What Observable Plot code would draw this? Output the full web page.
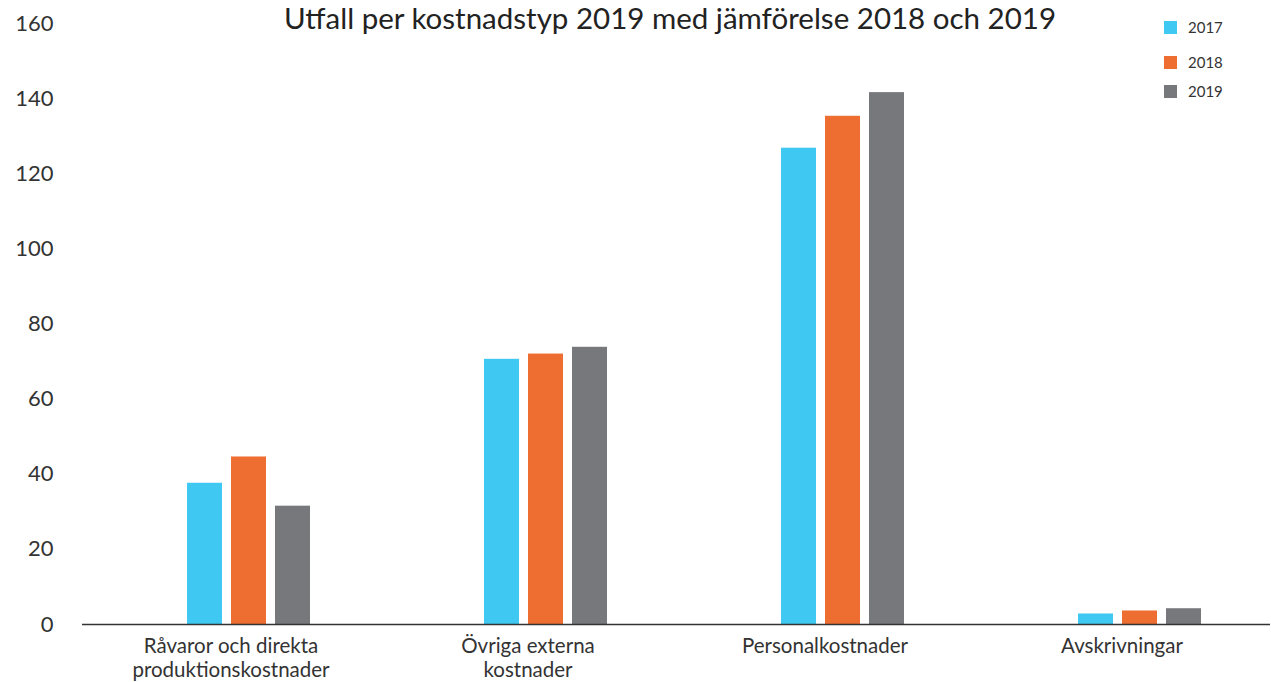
<!DOCTYPE html>
<html><head><meta charset="utf-8">
<script src="https://cdn.jsdelivr.net/npm/d3@7"></script>
<script src="https://cdn.jsdelivr.net/npm/@observablehq/plot@0.6"></script>
<style>
body{margin:0;background:#fff;font-family:Lato,sans-serif;}
#wrap{position:relative;width:1271px;height:682px;overflow:hidden;background:#fff;}
#title{position:absolute;left:0;top:0;width:1271px;box-sizing:border-box;padding-left:69px;text-align:center;font-size:29.5px;line-height:normal;color:#222;white-space:nowrap;}
#legend{position:absolute;left:1164px;top:0;}
.item{position:absolute;left:0;display:flex;align-items:center;font-size:15px;line-height:15px;color:#333;white-space:nowrap}
.sw{width:13px;height:13px;margin-right:11px}
#chart{position:absolute;left:0;top:0;}
</style></head><body>
<div id="wrap"><div id="chart"></div><div id="title"></div><div id="legend"></div></div>
<script>
const titleText = "Utfall per kostnadstyp 2019 med jämförelse 2018 och 2019";
const categories = ["Råvaror och direkta\nproduktionskostnader", "Övriga externa\nkostnader", "Personalkostnader", "Avskrivningar"];
const years = ["2017", "2018", "2019"];
const values2017 = [37.6, 70.6, 126.8, 2.8];
const values2018 = [44.6, 72.0, 135.3, 3.6];
const values2019 = [31.5, 73.8, 141.6, 4.2];
const yTicks = [0, 20, 40, 60, 80, 100, 120, 140, 160];
const colors = ["#3ec8f2", "#ee6e32", "#77787c"];

const series = [values2017, values2018, values2019];
const data = categories.flatMap((c, i) => years.map((y, j) => ({category: c, year: y, value: series[j][i]})));

const plot = Plot.plot({
  width: 1271, height: 682,
  marginTop: 23, marginBottom: 58, marginLeft: 80, marginRight: 0,
  style: {fontFamily: "Lato, sans-serif", fontSize: "19px", color: "#333", background: "#fff", overflow: "visible"},
  fx: {domain: categories, padding: 0, label: null},
  x: {domain: years, paddingInner: 0.2, paddingOuter: 1.9455, align: 0.605, axis: null},
  y: {domain: [0, 160], label: null},
  color: {domain: years, range: colors},
  marks: [
    Plot.axisY({ticks: yTicks, tickSize: 0, tickPadding: 29, fontSize: 22, label: null}),
    Plot.axisFx({anchor: "bottom", tickSize: 0, tickPadding: 11, lineHeight: 1.17, fontSize: 20.5, label: null}),
    Plot.barY(data, {fx: "category", x: "year", y: "value", fill: "year"}),
    Plot.ruleY([0], {stroke: "#333", strokeWidth: 1.5})
  ]
});
document.getElementById("chart").appendChild(plot);
document.getElementById("title").textContent = titleText;

const legend = document.getElementById("legend");
const legendTops = [20, 55, 84];
years.forEach((y, j) => {
  const it = document.createElement("div");
  it.className = "item";
  it.style.top = legendTops[j] + "px";
  const sw = document.createElement("span");
  sw.className = "sw";
  sw.style.background = colors[j];
  const t = document.createElement("span");
  t.textContent = y;
  it.appendChild(sw); it.appendChild(t);
  legend.appendChild(it);
});
</script>
</body></html>
